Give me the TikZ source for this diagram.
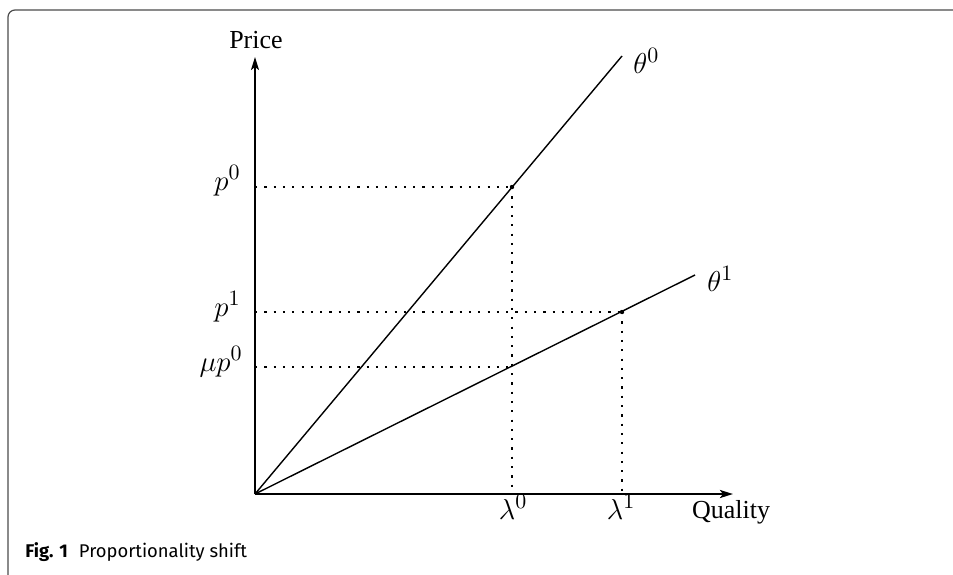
\documentclass[tikz,border=0pt]{standalone}
\usepackage{fontspec}
\setmainfont{Liberation Serif}
\newfontfamily\capfont{Fira Sans}
\usetikzlibrary{arrows.meta}
\begin{document}
\begin{tikzpicture}[x=0.5pt,y=-0.5pt,
  axis/.style={line width=0.9pt,-{Stealth[length=6.5pt,width=4pt,inset=1.5pt]}},
  curve/.style={line width=0.7pt},
  guide/.style={line width=0.9pt,dash pattern=on 1.1pt off 3.55pt},
  lbl/.style={font=\fontsize{13}{15}\selectfont,inner sep=0pt},
  mlbl/.style={font=\fontsize{15}{17}\selectfont,inner sep=0pt},
  pt/.style={circle,fill=black,inner sep=0pt,minimum size=2.2pt},
  frame/.style={draw=black!70,line width=0.6pt,rounded corners=3.5pt}]
\useasboundingbox (0,0) rectangle (953,574);
\draw[frame] (8,580) -- (8,10) -- (960,10);
% key points
\coordinate (O) at (255,494);
\coordinate (Ytop) at (255,57);
\coordinate (Xend) at (733,494);
\coordinate (T0end) at (622,56);
\coordinate (T1end) at (695,275);
\node[pt] (P0) at (512,187) {};
\node[pt] (P1) at (622,312) {};
\coordinate (M) at (512,367);
\coordinate (A0) at (255,187);
\coordinate (A1) at (255,312);
\coordinate (Am) at (255,367);
\coordinate (L0) at (512,494);
\coordinate (L1) at (622,494);
% guides
\draw[guide] (A0) -- (P0.center);
\draw[guide] (A1) -- (P1.center);
\draw[guide] (Am) -- (M);
\draw[guide] (P0.center) -- (L0);
\draw[guide] (P1.center) -- (L1);
% lines
\draw[curve] (O) -- (T0end);
\draw[curve] (O) -- (T1end);
% axes
\draw[axis] (O) -- (Ytop);
\draw[axis,line width=1.2pt] (O) -- (Xend);
% labels
\node[lbl] (price) at (256,40) {Price};
\node[lbl,anchor=base] (quality) at (731,518) {Quality};
\node[mlbl,anchor=base] (lam0) at (513,519) {$\lambda^0$};
\node[mlbl,anchor=base] (lam1) at (621,519) {$\lambda^1$};
\node[mlbl,anchor=base east] (lp0) at (241,190) {$p^0$};
\node[mlbl,anchor=base east] (lp1) at (241,316) {$p^1$};
\node[mlbl,anchor=base east] (lmu) at (243,371) {$\mu p^0$};
\node[mlbl,anchor=base west] (th0) at (633,73) {$\theta^0$};
\node[mlbl,anchor=base west] (th1) at (707,291) {$\theta^1$};
\node[anchor=base west,inner sep=0pt,font=\capfont\fontsize{9.2}{11}\selectfont] (cap) at (25,557) {\textbf{Fig. 1}\hspace{0.6em}Proportionality shift};
\end{tikzpicture}
\end{document}
